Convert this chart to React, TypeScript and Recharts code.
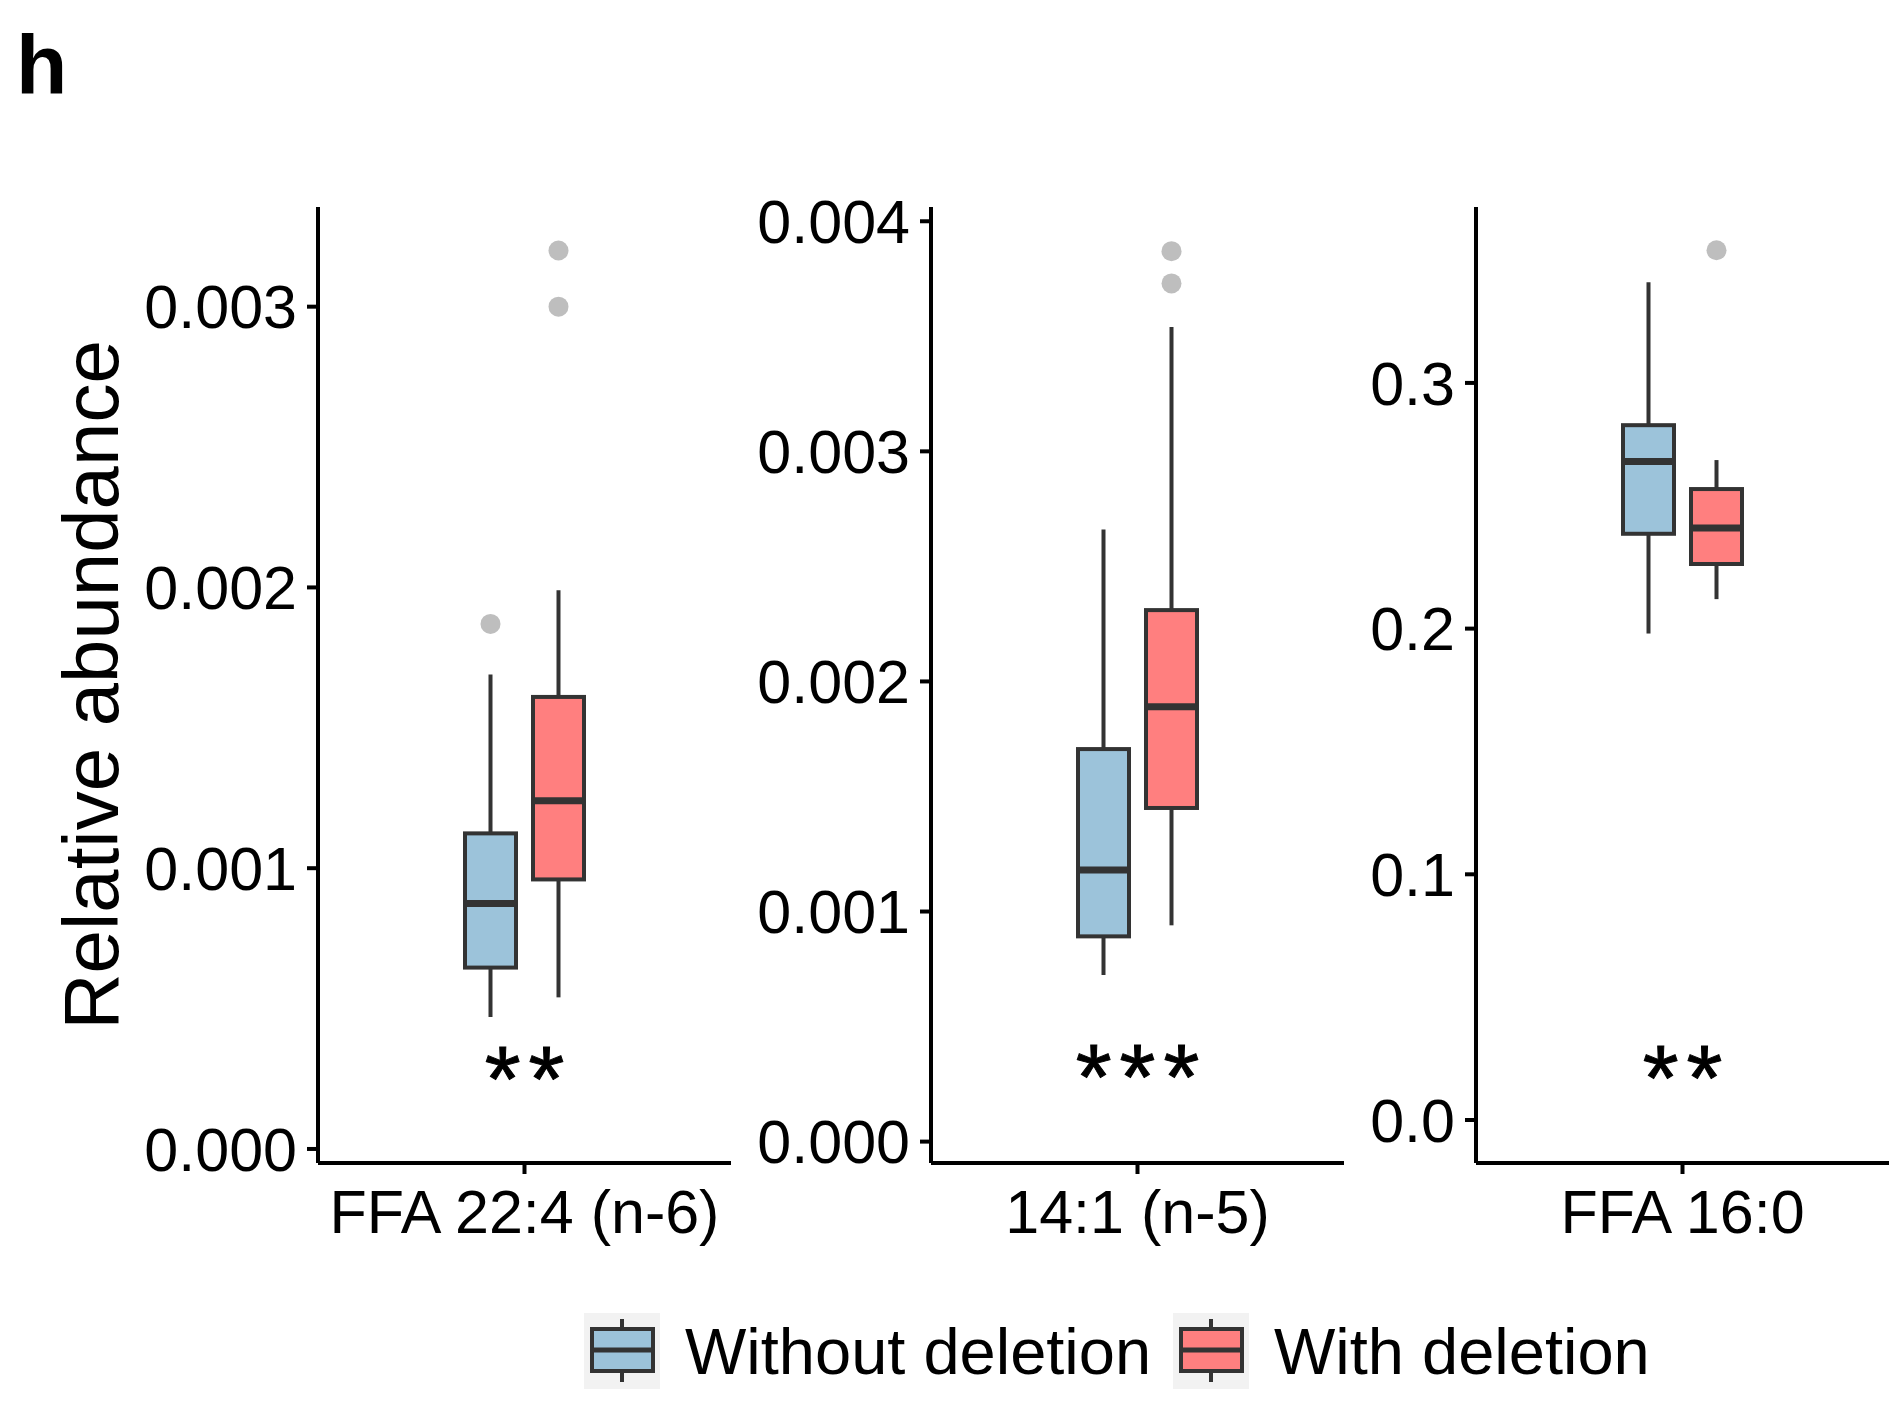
import React from "react";
import {
  ComposedChart,
  Bar,
  XAxis,
  YAxis,
  ReferenceDot,
} from "recharts";

const PANELS = ["FFA 22:4 (n-6)", "14:1 (n-5)", "FFA 16:0"];
const GROUPS = ["Without deletion", "With deletion"];
const FILLS = ["#9CC3DA", "#FF7F7F"];

// Without deletion: whisker ends, quartiles, median, outliers
const WITHOUT_MIN = [0.00047, 0.000724, 0.198];
const WITHOUT_Q1 = [0.000646, 0.000892, 0.2386];
const WITHOUT_MED = [0.000874, 0.00118, 0.268];
const WITHOUT_Q3 = [0.001124, 0.001706, 0.2828];
const WITHOUT_MAX = [0.00169, 0.00266, 0.341];
const WITHOUT_OUT = [[0.00187], [], []];

// With deletion
const WITH_MIN = [0.00054, 0.00094, 0.212];
const WITH_Q1 = [0.00096, 0.00145, 0.2263];
const WITH_MED = [0.00124, 0.00189, 0.241];
const WITH_Q3 = [0.00161, 0.00231, 0.2568];
const WITH_MAX = [0.00199, 0.00354, 0.2686];
const WITH_OUT = [[0.003, 0.0032], [0.00373, 0.00387], [0.354]];

const SIGNIF = ["**", "***", "**"];
const SIGNIF_Y = [0.000325, 0.00037, 0.0255];

const Y_TICKS = [
  [0, 0.001, 0.002, 0.003],
  [0, 0.001, 0.002, 0.003, 0.004],
  [0, 0.1, 0.2, 0.3],
];
const Y_DOMAINS = [
  [-0.00005, 0.003355],
  [-0.000093, 0.004062],
  [-0.0175, 0.3716],
];
const Y_DECIMALS = [3, 3, 1];

const AXIS_X = [318, 931, 1476];
const Y_AXIS_W = 200;
const PLOT_W = 413;
const FONT = "'Liberation Sans', Arial, Helvetica, sans-serif";
const INK = "#333333";

const rows = PANELS.map((name, i) => ({
  name,
  g0: {
    min: WITHOUT_MIN[i],
    q1: WITHOUT_Q1[i],
    med: WITHOUT_MED[i],
    q3: WITHOUT_Q3[i],
    max: WITHOUT_MAX[i],
    out: WITHOUT_OUT[i],
  },
  g1: {
    min: WITH_MIN[i],
    q1: WITH_Q1[i],
    med: WITH_MED[i],
    q3: WITH_Q3[i],
    max: WITH_MAX[i],
    out: WITH_OUT[i],
  },
}));

function BoxShape(props: any) {
  const { x, y, width, height, payload, g, fill } = props;
  const s = payload[g];
  const top = Math.min(y, y + height);
  const h = Math.abs(height);
  const per = h / (s.max - s.min);
  const py = (v: number) => top + (s.max - v) * per;
  const cx = x + width / 2;
  return (
    <g>
      <line x1={cx} x2={cx} y1={py(s.max)} y2={py(s.q3)} stroke={INK} strokeWidth={4} />
      <line x1={cx} x2={cx} y1={py(s.q1)} y2={py(s.min)} stroke={INK} strokeWidth={4} />
      <rect
        x={x}
        y={py(s.q3)}
        width={width}
        height={py(s.q1) - py(s.q3)}
        fill={fill}
        stroke={INK}
        strokeWidth={4}
      />
      <line x1={x} x2={x + width} y1={py(s.med)} y2={py(s.med)} stroke={INK} strokeWidth={7} />
      {s.out.map((o: number, k: number) => (
        <circle key={k} cx={cx} cy={py(o)} r={10} fill="#BEBEBE" />
      ))}
    </g>
  );
}

function StarLabel(props: any) {
  const { viewBox, text } = props;
  const fs = 92;
  const gap = 8;
  return (
    <text
      x={viewBox.x + (viewBox.width || 0) / 2 + gap / 2}
      y={viewBox.y + 0.575 * fs}
      textAnchor="middle"
      fontSize={fs}
      fontFamily={FONT}
      letterSpacing={gap}
      fill="#000"
      stroke="#000"
      strokeWidth={1}
    >
      {text}
    </text>
  );
}

function Panel({ i }: { i: number }) {
  const data = [rows[i]];
  return (
    <div style={{ position: "absolute", left: AXIS_X[i] - Y_AXIS_W, top: 180 }}>
      <ComposedChart
        width={Y_AXIS_W + PLOT_W + 5}
        height={1093}
        data={data}
        margin={{ top: 27, right: 5, bottom: 0, left: 0 }}
        barSize={51}
        barGap={17}
      >
        <XAxis
          dataKey="name"
          height={110}
          interval={0}
          tickSize={11}
          tickMargin={16}
          axisLine={{ stroke: "#000", strokeWidth: 4 }}
          tickLine={{ stroke: "#000", strokeWidth: 4 }}
          tick={{ fill: "#000", fontSize: 61, fontFamily: FONT }}
        />
        <YAxis
          type="number"
          width={Y_AXIS_W}
          domain={Y_DOMAINS[i]}
          ticks={Y_TICKS[i]}
          allowDataOverflow
          interval={0}
          tickSize={11}
          tickMargin={10}
          tickFormatter={(v: number) => v.toFixed(Y_DECIMALS[i])}
          axisLine={{ stroke: "#000", strokeWidth: 4 }}
          tickLine={{ stroke: "#000", strokeWidth: 4 }}
          tick={{ fill: "#000", fontSize: 61, fontFamily: FONT }}
        />
        {GROUPS.map((gname, g) => (
          <Bar
            key={gname}
            name={gname}
            dataKey={(r: any) => [r["g" + g].min, r["g" + g].max]}
            fill={FILLS[g]}
            isAnimationActive={false}
            shape={(p: any) => <BoxShape {...p} g={"g" + g} fill={FILLS[g]} />}
          />
        ))}
        <ReferenceDot
          x={PANELS[i]}
          y={SIGNIF_Y[i]}
          r={0}
          fill="none"
          stroke="none"
          label={<StarLabel text={SIGNIF[i]} />}
        />
      </ComposedChart>
    </div>
  );
}

function LegendKey({ x, g }: { x: number; g: number }) {
  const cx = x + 38;
  return (
    <g>
      <rect x={x} y={1313} width={76} height={76} fill="#F2F2F2" />
      <line x1={cx} x2={cx} y1={1319} y2={1382} stroke={INK} strokeWidth={4} />
      <rect x={x + 8} y={1329} width={61} height={42} fill={FILLS[g]} stroke={INK} strokeWidth={4} />
      <line x1={x + 8} x2={x + 69} y1={1350} y2={1350} stroke={INK} strokeWidth={5} />
    </g>
  );
}

export default function App() {
  const keyX = [584, 1173];
  const textX = [685, 1274];
  return (
    <div style={{ position: "relative", width: 1894, height: 1408, background: "#fff" }}>
      <style>{`body{margin:0}`}</style>
      {PANELS.map((_, i) => (
        <Panel key={i} i={i} />
      ))}
      <svg
        width={1894}
        height={1408}
        style={{ position: "absolute", left: 0, top: 0, pointerEvents: "none" }}
      >
        <text x={16} y={94} fontSize={84} fontWeight="bold" fontFamily={FONT} fill="#000">
          h
        </text>
        <text
          transform="translate(118,685) rotate(-90)"
          textAnchor="middle"
          fontSize={78}
          fontFamily={FONT}
          fill="#000"
        >
          Relative abundance
        </text>
        {GROUPS.map((gname, g) => (
          <g key={gname}>
            <LegendKey x={keyX[g]} g={g} />
            <text x={textX[g]} y={1374} fontSize={65} fontFamily={FONT} fill="#000">
              {gname}
            </text>
          </g>
        ))}
      </svg>
    </div>
  );
}
